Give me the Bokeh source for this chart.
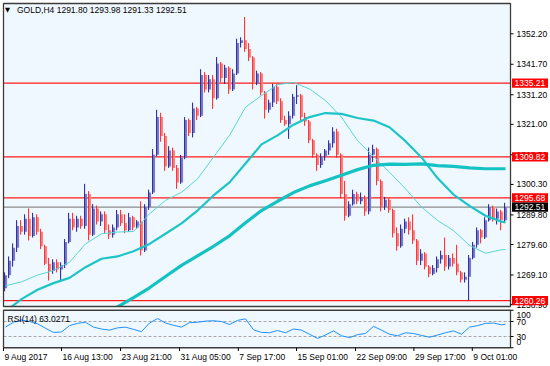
from bokeh.plotting import figure
from bokeh.models import Range1d, ColumnDataSource
from bokeh.core.properties import value
from bokeh.embed import file_html
from bokeh.resources import INLINE
import numpy as np

FONT = "Liberation Sans"
nan = float("nan")

# ---- candles (one candle per ~2 H4 bars) ----
opens = [1264.5, 1269, 1274, 1278.5, 1286, 1284, 1288.5, 1282.5, 1289, 1284,
         1279, 1273, 1270.5, 1273.5, 1271, 1272.5, 1280.5, 1288.5, 1285.5, 1288.5,
         1286, 1297, 1283, 1292, 1287.5, 1290, 1284.5, 1283, 1285.5, 1290,
         1287, 1284.5, 1289, 1285.5, 1287.5, 1277.5, 1292.5, 1297.5, 1310.5, 1323.5,
         1317, 1306.5, 1312, 1306, 1301, 1309.5, 1322.5, 1318, 1326.5, 1324,
         1338, 1333, 1336.5, 1330, 1342, 1337, 1340.5, 1333, 1338.5, 1349,
         1350, 1347, 1344, 1335, 1338.5, 1332, 1326, 1328.5, 1334, 1329,
         1322.5, 1321, 1324, 1330.5, 1331, 1323.5, 1322, 1315.5, 1310.5, 1307,
         1310, 1312, 1314.5, 1318.5, 1310.5, 1297, 1289.5, 1293.5, 1297, 1294.5,
         1296, 1291, 1310.5, 1312.5, 1301.5, 1292.5, 1295, 1291.5, 1283.5, 1279,
         1285, 1287.5, 1284.5, 1281, 1274, 1276.5, 1272, 1269.5, 1271.5, 1274.5,
         1276, 1272, 1275, 1273, 1270, 1267.5, 1268.5, 1275, 1279.5, 1284.5,
         1282, 1288, 1292.5, 1288.5, 1291, 1288]
highs = [1270, 1275.5, 1280, 1288, 1288, 1290, 1292, 1290.5, 1290, 1285,
         1279.5, 1275, 1274.5, 1274.5, 1273.5, 1281.5, 1290.5, 1290.5, 1289.5, 1289.5,
         1300.5, 1298, 1293.5, 1293, 1291, 1291, 1286.5, 1286.5, 1291.5, 1291.5,
         1290, 1290.5, 1289.5, 1288, 1294.5, 1293.5, 1298.5, 1312.5, 1326, 1325,
         1318, 1313.5, 1313, 1307, 1310.5, 1323.5, 1323, 1328.5, 1327, 1340,
         1339, 1338, 1338, 1344.2, 1342.5, 1341.5, 1341, 1340, 1350.5, 1351,
         1358, 1349, 1344.5, 1339.5, 1339, 1332.5, 1329.5, 1335, 1335, 1330,
         1324, 1325.5, 1331.5, 1334.5, 1331.5, 1325, 1322.5, 1316, 1311, 1311,
         1312.5, 1315.5, 1320, 1319.5, 1311, 1301.5, 1294.5, 1298.5, 1297.8, 1297.5,
         1296.5, 1313, 1314, 1313, 1302, 1296, 1295.5, 1292, 1285.5, 1286.5,
         1288.5, 1289, 1290, 1281.5, 1278, 1277, 1272.5, 1272.5, 1275.5, 1277.5,
         1282, 1276, 1276.5, 1279.5, 1270.5, 1270, 1276, 1280.5, 1285.5, 1285,
         1289, 1293.5, 1293, 1292, 1291.5, 1293.98]
lows = [1263.5, 1268, 1272, 1277, 1283, 1283, 1281, 1282, 1283, 1278,
        1272.5, 1267.2, 1269.5, 1270, 1267.2, 1271.5, 1280, 1284.5, 1284, 1285,
        1285, 1281, 1282.5, 1286.5, 1286, 1283.5, 1281.5, 1282, 1284.5, 1286,
        1283.5, 1284, 1284.5, 1285, 1275.8, 1277, 1291.5, 1297, 1310, 1315,
        1305, 1306, 1305, 1298.8, 1300.5, 1309, 1317, 1316.5, 1322.5, 1323.5,
        1332, 1332, 1326.3, 1329.5, 1335.5, 1335, 1331.5, 1332.5, 1338, 1347.5,
        1346, 1342.8, 1333, 1334.5, 1331, 1323, 1325, 1327, 1328, 1321.5,
        1320.5, 1316, 1323, 1328, 1322, 1320.5, 1314.5, 1309.5, 1305, 1306,
        1308.5, 1310.5, 1313, 1309.5, 1295.5, 1287.8, 1289, 1293, 1293.5, 1293.5,
        1289.5, 1290, 1308, 1300, 1291, 1291.5, 1290.5, 1282, 1277.5, 1278.5,
        1283.5, 1283, 1279.8, 1272.5, 1272.5, 1271, 1268.3, 1269, 1270, 1273,
        1270.5, 1271, 1272, 1269, 1266.5, 1266.5, 1260.3, 1274.5, 1278.5, 1280,
        1281.5, 1287.5, 1287.5, 1286.5, 1284.5, 1287]
closes = [1269, 1274, 1278.5, 1286, 1284, 1288.5, 1282.5, 1289, 1284, 1279,
          1273, 1270.5, 1273.5, 1271, 1272.5, 1280.5, 1288.5, 1285.5, 1288.5, 1286,
          1297, 1283, 1292, 1287.5, 1290, 1284.5, 1283, 1285.5, 1290, 1287,
          1284.5, 1289, 1285.5, 1287.5, 1277.5, 1292.5, 1297.5, 1310.5, 1323.5, 1317,
          1306.5, 1312, 1306, 1301, 1309.5, 1322.5, 1318, 1326.5, 1324, 1338,
          1333, 1336.5, 1330, 1342, 1337, 1340.5, 1333, 1338.5, 1349, 1350,
          1347, 1344, 1335, 1338.5, 1332, 1326, 1328.5, 1334, 1329, 1322.5,
          1321, 1324, 1330.5, 1331, 1323.5, 1322, 1315.5, 1310.5, 1307, 1310,
          1312, 1314.5, 1318.5, 1310.5, 1297, 1289.5, 1293.5, 1297, 1294.5, 1296,
          1291, 1310.5, 1312.5, 1301.5, 1292.5, 1295, 1291.5, 1283.5, 1279, 1285,
          1287.5, 1284.5, 1281, 1274, 1276.5, 1272, 1269.5, 1271.5, 1274.5, 1276,
          1272, 1275, 1273, 1270, 1267.5, 1268.5, 1275, 1279.5, 1284.5, 1282,
          1288, 1292.5, 1288.5, 1291, 1288, 1292.51]

# ---- moving averages, read every 4th candle ----
ma_bars = list(range(0, 125, 4)) + [125]
ma_fast = [1265.4, 1266.75, 1269.05, 1270.65, 1273.5, 1279.8, 1283.3, 1283.9, 1284.1, 1290.2,
           1294.8, 1297.6, 1302.2, 1309.7, 1317.2, 1326.9, 1330.9, 1334.7, 1335.4, 1333.2,
           1329.2, 1323.5, 1315.4, 1309.9, 1304.5, 1298.8, 1292.5, 1287.9, 1284.4, 1279.3,
           1276.6, 1277.8, 1277.9]
ma_mid = [1256.6, 1260.8, 1264.0, 1266.3, 1268.1, 1271.8, 1274.7, 1275.5, 1277.3, 1279.8,
          1283.3, 1286.9, 1291.3, 1296.5, 1301.0, 1307.5, 1314.1, 1317.2, 1320.9, 1323.5,
          1324.9, 1324.6, 1323.2, 1322.3, 1320.0, 1315.2, 1309.6, 1302.5, 1296.8, 1292.9,
          1289.5, 1287.5, 1287.2]
ma_slow = [nan, nan, nan, nan, nan, nan, 1254.8, 1258.1, 1261.3, 1264.7,
           1268.6, 1272.4, 1275.7, 1279.0, 1282.6, 1287.1, 1291.3, 1294.5, 1297.5, 1299.8,
           1301.6, 1303.5, 1305.4, 1306.9, 1307.3, 1307.2, 1307.4, 1306.8, 1306.5, 1306.0,
           1305.7, 1305.7, 1305.7]

# ---- RSI(14), read every 2nd candle ----
rsi_bars = list(range(0, 125, 2)) + [125]
rsi_vals = [55, 68, 74, 70, 64, 52, 41, 42, 59, 65,
            68, 55, 50, 47, 53, 55, 49, 43, 66, 78,
            66, 60, 55, 67, 68, 71, 72, 70, 62, 73,
            77, 48, 41, 40, 46, 40, 50, 47, 36, 25,
            34, 45, 32, 27, 35, 38, 57, 47, 36, 32,
            40, 38, 33, 28, 34, 40, 45, 36, 55, 59,
            65, 66, 61, 63.03]

price_ticks = [1258.90, 1269.10, 1279.60, 1289.80, 1300.30, 1310.50,
               1321.00, 1331.20, 1341.70, 1352.20]
levels = [1335.21, 1309.82, 1295.68, 1260.26]
last_price = 1292.51
header = "GOLD,H4  1291.80 1293.98 1291.33 1292.51"
rsi_title = "RSI(14) 63.0271"
rsi_ticks = [0, 30, 70, 100]
rsi_levels = [70, 30]
date_ticks = [-0.5, 14.0, 28.75, 43.5, 58.2, 72.75, 87.5, 102.1, 116.7]
date_labels = ["9 Aug 2017", "16 Aug 13:00", "23 Aug 21:00", "31 Aug 05:00",
               "7 Sep 17:00", "15 Sep 01:00", "22 Sep 09:00", "29 Sep 17:00",
               "9 Oct 01:00"]

# ---- styling / layout helpers (pixel layout -> data units) ----
BG = "#f0f8ff"
FRAME = "#3c3c3c"
FS = "8.5px"
W, H = 550, 366


def xi(px):          # page x pixel -> candle units
    return (px - 5.0) / 4.0


def py(px):          # page y pixel -> price (main panel scale)
    return 1352.2 - (px - 33.3) / 2.9025


def ry(px):          # page y pixel -> rsi value (rsi panel scale)
    return 70.0 - (px - 321.0) / 0.375


L, R = xi(3), xi(510)
T, B = py(3), py(306)
PSC = 2.9025

n = len(closes)
bars = np.arange(n)
o = np.array(opens)
c = np.array(closes)
up = c >= o
src = ColumnDataSource(dict(
    xw=bars - 0.22, xb=bars + 0.12,
    hi=highs, lo=lows,
    top=np.maximum(o, c), bot=np.minimum(o, c),
    body=np.where(up, "#7c7cca", "#f58686"),
    wick=np.where(up, "#1c1c96", "#ff2020"),
))

p = figure(width=W, height=H, x_range=Range1d(xi(0), xi(W)),
           y_range=Range1d(py(H), py(0)), output_backend="svg", toolbar_location=None,
           x_axis_location=None, y_axis_location=None, min_border_left=0,
           min_border_right=0, min_border_top=0, min_border_bottom=0,
           outline_line_color=None, background_fill_color="white",
           border_fill_color="white")
p.extra_y_ranges = {"rsi": Range1d(ry(H), ry(0))}
p.grid.visible = False

# ---- price panel ----
p.quad(left=[L], right=[R], top=[T], bottom=[B], fill_color=BG, line_color=None)
p.segment(x0=L, x1=R, y0=levels, y1=levels, line_color="#ff1a1a", line_width=1.2)
p.segment(x0=[L], x1=[R], y0=[last_price], y1=[last_price], line_color="#8c8c8c",
          line_width=1.2)

p.vbar(x="xb", width=0.55, top="top", bottom="bot", fill_color="body",
       line_color=None, source=src)
p.segment(x0="xw", x1="xw", y0="lo", y1="hi", line_color="wick", line_width=1,
          source=src)

p.line(ma_bars, ma_fast, line_color="#56d6d6", line_width=1)
p.line(ma_bars, ma_mid, line_color="#1cc4c8", line_width=2.2)
p.line(ma_bars, ma_slow, line_color="#14c2c4", line_width=3.2)

# mask everything below the price panel, then its frame
p.quad(left=[xi(0)], right=[xi(W)], top=[B], bottom=[py(H)], fill_color="white",
       line_color=None)
p.quad(left=[L], right=[R], top=[T], bottom=[B], fill_color=None, line_color=FRAME,
       line_width=1.3)

# ---- RSI panel ----
p.quad(left=[L], right=[R], top=[100], bottom=[0], fill_color=BG, line_color=None,
       y_range_name="rsi")
p.segment(x0=L, x1=R, y0=rsi_levels, y1=rsi_levels, line_color="#a8a8a8",
          line_width=1, line_dash="3 2", y_range_name="rsi")
p.line(rsi_bars, rsi_vals, line_color="#1e90ff", line_width=1, y_range_name="rsi")
p.quad(left=[L], right=[R], top=[100], bottom=[0], fill_color=None, line_color=FRAME,
       line_width=1.3, y_range_name="rsi")

# ---- price scale ----
p.segment(x0=R, x1=xi(513), y0=price_ticks, y1=price_ticks, line_color="black",
          line_width=1)
p.text(x=xi(516), y=price_ticks, text=[f"{t:.2f}" for t in price_ticks],
       text_font=value(FONT), text_font_size=FS, text_color="black",
       text_baseline="middle", text_align="left")

tag_prices = levels + [last_price]
tag_colors = ["#ff0000"] * len(levels) + ["#000000"]
half = 4.6 / PSC
p.quad(left=xi(511.5), right=xi(547.5), top=[v + half for v in tag_prices],
       bottom=[v - half for v in tag_prices], fill_color=tag_colors, line_color=None)
p.text(x=xi(514), y=tag_prices, text=[f"{v:.2f}" for v in tag_prices],
       text_font=value(FONT), text_font_size=FS, text_color="white",
       text_baseline="middle", text_align="left")

p.text(x=[xi(4.5)], y=[py(9.5)], text=["\u25bc"], text_font=value("DejaVu Sans"),
       text_font_size="6.5px", text_color="black", text_baseline="middle")
p.text(x=[xi(16.5)], y=[py(9.5)], text=[header], text_font=value(FONT),
       text_font_size=FS, text_color="black", text_baseline="middle")

# ---- RSI scale, dates ----
p.segment(x0=R, x1=xi(513), y0=rsi_ticks, y1=rsi_ticks, line_color="black",
          y_range_name="rsi")
lab_y = [min(max(t, ry(341.3)), ry(314.8)) for t in rsi_ticks]
p.text(x=xi(516), y=lab_y, text=[str(t) for t in rsi_ticks], text_font=value(FONT),
       text_font_size=FS, text_color="black", text_baseline="middle",
       y_range_name="rsi")

p.segment(x0=date_ticks, x1=date_ticks, y0=0, y1=ry(350.5), line_color="black",
          y_range_name="rsi")
p.text(x=[t + 0.25 for t in date_ticks], y=ry(356.5), text=date_labels,
       text_font=value(FONT), text_font_size=FS, text_color="black",
       text_baseline="middle", text_align="left", y_range_name="rsi")
p.text(x=[xi(7)], y=[ry(318)], text=[rsi_title], text_font=value(FONT),
       text_font_size=FS, text_color="black", text_baseline="middle",
       y_range_name="rsi")

open("out.html", "w").write(file_html(p, INLINE, "GOLD H4"))
